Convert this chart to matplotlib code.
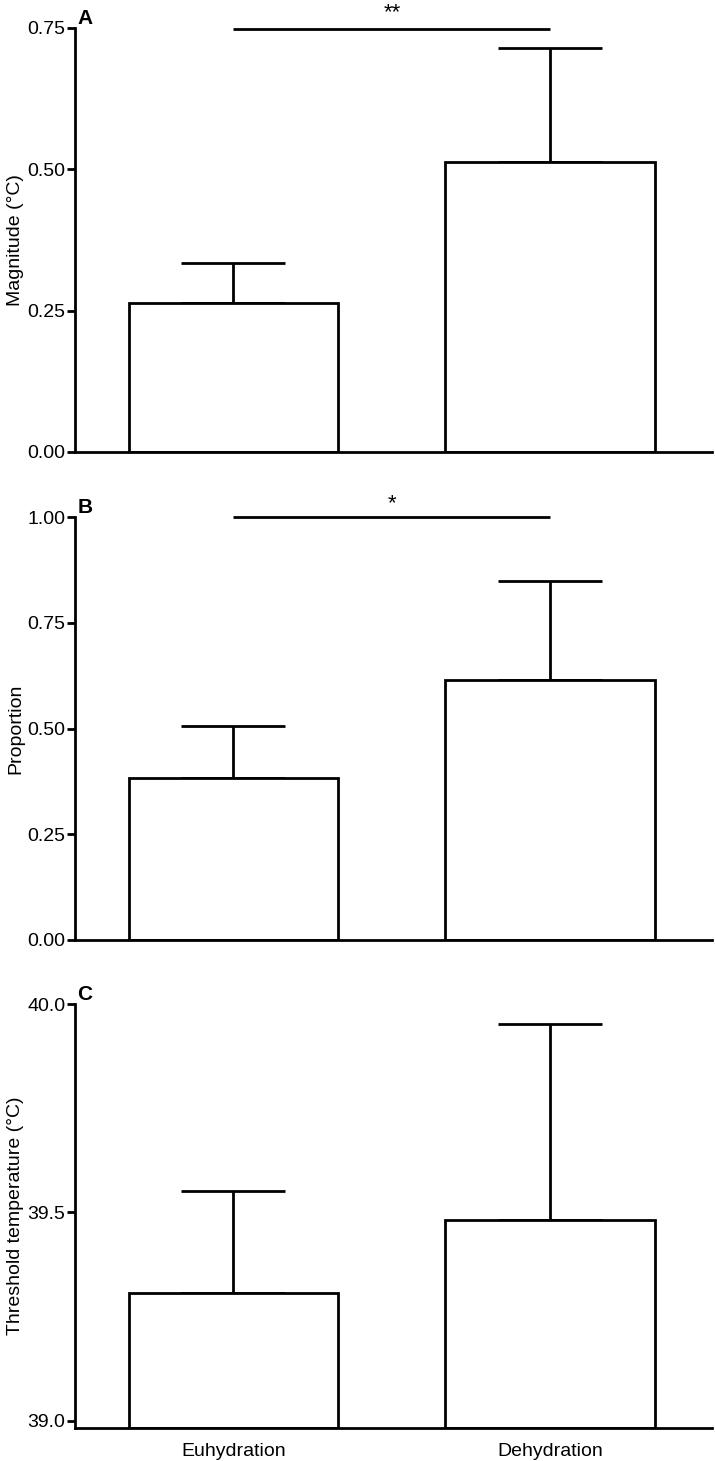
import matplotlib
matplotlib.use("Agg")
import matplotlib.pyplot as plt
import numpy as np

plt.rcParams['font.family'] = ['Liberation Sans', 'DejaVu Sans']

categories = ["Euhydration", "Dehydration"]

magnitude_mean = [0.263, 0.513]
magnitude_sem = [0.071, 0.201]

proportion_mean = [0.384, 0.614]
proportion_sem = [0.122, 0.235]

threshold_mean = [39.307, 39.481]
threshold_sem = [0.245, 0.472]

ylabels = ["Magnitude (\u00b0C)", "Proportion", "Threshold temperature (\u00b0C)"]
panel_letters = ["A", "B", "C"]
ytick_sets = [[0.00, 0.25, 0.50, 0.75], [0.00, 0.25, 0.50, 0.75, 1.00], [39.0, 39.5, 40.0]]
ytick_labels = [["0.00", "0.25", "0.50", "0.75"],
                ["0.00", "0.25", "0.50", "0.75", "1.00"],
                ["39.0", "39.5", "40.0"]]
ylims = [(0, 0.75), (0, 1.0), (38.983, 40.0)]
sig_marks = ["**", "*", None]
sig_levels = [0.748, 1.0, None]

W, H = 715, 1461
fig = plt.figure(figsize=(W / 100, H / 100), dpi=100)

left_px, right_px = 75, 712
panels_px = [(28, 452), (517, 940), (1004, 1428)]

LW = 2.0
FS = 14
x = np.arange(len(categories))
data = [(magnitude_mean, magnitude_sem), (proportion_mean, proportion_sem), (threshold_mean, threshold_sem)]

for i, ((top, bot), (means, sems)) in enumerate(zip(panels_px, data)):
    ax = fig.add_axes([left_px / W, 1 - bot / H, (right_px - left_px) / W, (bot - top) / H])
    base = ylims[i][0]
    means = np.array(means)
    heights = means - base
    ax.bar(x, heights, bottom=base, width=0.662, color="white", edgecolor="black",
           linewidth=LW, zorder=2)
    ax.errorbar(x, means, yerr=[np.zeros_like(means), np.array(sems)], fmt="none",
                ecolor="black", elinewidth=LW, capsize=37.4, capthick=LW, zorder=1)
    ax.set_xlim(-0.5, 1.51)
    ax.set_ylim(*ylims[i])
    ax.set_yticks(ytick_sets[i])
    ax.set_yticklabels(ytick_labels[i])
    for s in ["top", "right"]:
        ax.spines[s].set_visible(False)
    for s in ["left", "bottom"]:
        ax.spines[s].set_linewidth(LW)
    ax.tick_params(axis="y", length=6, width=LW, labelsize=FS, pad=1)
    ax.set_ylabel(ylabels[i], fontsize=FS)
    ax.yaxis.set_label_coords(-0.08, 0.5)
    if i == 2:
        ax.set_xticks(x)
        ax.set_xticklabels(categories, fontsize=FS)
        ax.tick_params(axis="x", length=0, pad=11)
    else:
        ax.set_xticks([])
    ax.text(0.004, 1.0, panel_letters[i], transform=ax.transAxes, fontsize=15,
            fontweight="bold", ha="left", va="bottom")
    if sig_marks[i] is not None:
        ax.plot([0, 1], [sig_levels[i], sig_levels[i]], color="black", lw=LW,
                clip_on=False, solid_capstyle="butt")
        ax.annotate(sig_marks[i], xy=(0.5, sig_levels[i]), xytext=(0, 2 if i == 1 else 4),
                    textcoords="offset points", ha="center", va="bottom", fontsize=16,
                    annotation_clip=False)

fig.savefig("out.png", dpi=100)
